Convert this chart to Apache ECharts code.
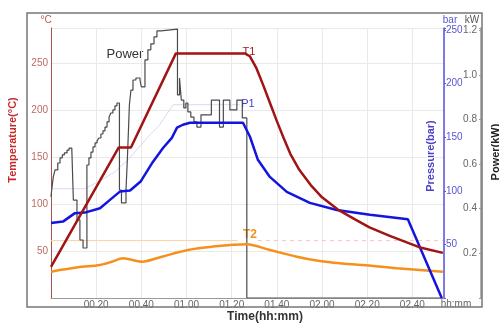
<!DOCTYPE html>
<html>
<head>
<meta charset="utf-8">
<script src="https://cdn.jsdelivr.net/npm/echarts/dist/echarts.min.js"></script>
<style>
html, body { margin: 0; background: #fff; }
#chart { width: 499px; height: 323px; }
</style>
</head>
<body>
<div id="chart"></div>
<script>
// time in minutes from start
var t1Time = [0, 30, 35.4, 55.3, 85.8, 88, 91, 94, 97, 100, 103, 106, 110, 115, 120, 127, 135, 141, 150, 163, 173.5];
var t1Temp = [33, 160, 160, 260, 260, 257, 244, 226, 207, 188, 170, 153, 136, 120, 107, 94, 83, 75, 66, 54, 48];

var t2Time = [0, 11.9, 21.7, 27, 31.9, 40.3, 49.1, 60.6, 71.2, 86.7, 96.9, 108.8, 119, 127.9, 138, 153.1, 173.5];
var t2Temp = [28, 32.6, 35.1, 38.6, 42.2, 38.6, 43.9, 51, 54.5, 57.1, 51, 43.9, 39.3, 36.9, 35.1, 31.6, 28];

var p1Time = [0, 5.3, 10.6, 15, 21.7, 26.1, 30.5, 35, 39.8, 45.1, 49.6, 53.5, 55.8, 58.4, 61.5, 85, 88.1, 91.6, 96.9, 104.4, 114.6, 126.5, 141.2, 158, 173];
var p1Bar = [70, 71.3, 79.2, 79.7, 83.8, 91.6, 99.3, 100.3, 109, 127, 140, 149.5, 159, 161.7, 163.6, 163.6, 150.5, 129, 113, 99, 88.8, 82.2, 77.6, 73.4, 0];

var pSetTime = [0, 15, 21.7, 28.3, 34.1, 43.8, 48.2, 54, 83.6];
var pSetBar = [102, 102, 109.3, 117.8, 129, 152.3, 161.7, 180.4, 180.4];

var t2SetTime = [0, 82.7];
var t2SetTail = [91.6, 173.5];
var t2SetTemp = 61;

// power steps: value holds from each time until the next one
var powTime = [0, 0.3, 1.0, 1.8, 3.0, 4.0, 5.0, 5.9, 7.1, 8.0, 9.2,
  9.9, 11.5, 12.8, 14.2,
  15.9, 16.8, 17.7, 18.6, 19.5, 20.4, 21.2, 22.1, 23.0, 23.9, 24.8, 25.7, 26.5, 27.4, 28.3, 29.2,
  30.3, 31.2, 33.2,
  33.8, 34.3, 34.7, 35.4, 36.3, 37.6, 39.4, 40.0, 41.6, 42.9, 44.2, 45.6, 46.9, 48.7,
  56.0, 56.9, 57.7, 58.8, 59.7, 60.6, 61.9, 63.3, 64.6, 66.4, 71.0, 74.6, 76.3, 79.2, 82.3, 84.7,
  86.7, 173.5];
var powKW = [0.453, 0.484, 0.542, 0.574, 0.605, 0.628, 0.641, 0.650, 0.663, 0.672, 0.678,
  0.439, 0.350, 0.260, 0.224,
  0.596, 0.628, 0.654, 0.677, 0.695, 0.704, 0.717, 0.735, 0.749, 0.766, 0.789, 0.811, 0.829, 0.843, 0.861, 0.874,
  0.484, 0.426, 0.484,
  0.619, 0.753, 0.865, 0.932, 0.977, 0.986, 0.977, 0.946, 1.067, 1.112, 1.139, 1.170, 1.197, 1.205,
  0.910, 0.986, 0.887, 0.852, 0.874, 0.834, 0.811, 0.789, 0.766, 0.821, 0.887, 0.766, 0.887, 0.843, 0.887, 0.807,
  0, 0];

function zip(a, b) {
  return a.map(function (v, i) { return [v, b[i]]; });
}
function pad(n) { return (n < 10 ? '0' : '') + n; }

var font = 'Liberation Sans, Arial, sans-serif';
var gridColor = '#e9e9e9';

var myChart = echarts.init(document.getElementById('chart'));
myChart.setOption({
  animation: false,
  textStyle: { fontFamily: font },
  grid: { left: 51, right: 55, top: 28, bottom: 25 },
  xAxis: {
    type: 'value',
    min: 0,
    max: 174,
    interval: 20,
    axisLine: { lineStyle: { color: '#999' } },
    axisTick: { show: false },
    axisLabel: {
      fontSize: 10,
      color: '#666',
      margin: 2,
      formatter: function (v) {
        if (v === 0 || v % 20 !== 0) return '';
        return pad(Math.floor(v / 60)) + '.' + pad(v % 60);
      }
    },
    splitLine: { lineStyle: { color: gridColor } }
  },
  yAxis: [
    {
      type: 'value',
      position: 'left',
      min: 0,
      max: 287,
      interval: 50,
      axisLine: { show: true, lineStyle: { color: '#a85050' } },
      axisTick: { show: false },
      axisLabel: {
        fontSize: 10,
        color: '#b86a66',
        margin: 3,
        formatter: function (v) { return (v > 0 && v % 50 === 0) ? v : ''; }
      },
      splitLine: { lineStyle: { color: gridColor } }
    },
    {
      type: 'value',
      position: 'right',
      min: 0,
      max: 252,
      interval: 50,
      axisLine: { show: true, lineStyle: { color: '#5b50d8', width: 1.5 } },
      axisTick: { show: true, length: 2, lineStyle: { color: '#5b50d8' } },
      axisLabel: {
        fontSize: 10,
        color: '#5a55d0',
        margin: 2,
        formatter: function (v) { return (v > 0 && v % 50 === 0) ? v : ''; }
      },
      splitLine: { show: false }
    },
    {
      type: 'value',
      position: 'right',
      offset: 37,
      min: 0,
      max: 1.21,
      interval: 0.2,
      axisLine: { show: true, lineStyle: { color: '#999', width: 1.5 } },
      axisTick: { show: true, inside: true, length: 2, lineStyle: { color: '#999' } },
      axisLabel: {
        inside: true,
        fontSize: 10,
        color: '#666',
        margin: 4,
        formatter: function (v) {
          if (v <= 0 || Math.abs(v * 5 - Math.round(v * 5)) > 1e-6) return '';
          return v.toFixed(1);
        }
      },
      splitLine: { show: false }
    }
  ],
  series: [
    {
      name: 'T2 set',
      type: 'line',
      yAxisIndex: 0,
      data: t2SetTime.map(function (t) { return [t, t2SetTemp]; }),
      lineStyle: { color: '#fbd0a2', width: 1 }
    },
    {
      name: 'T2 set tail',
      type: 'line',
      yAxisIndex: 0,
      data: t2SetTail.map(function (t) { return [t, t2SetTemp]; }),
      lineStyle: { color: '#efc6c6', width: 1, type: [4, 4] }
    },
    {
      name: 'P set',
      type: 'line',
      yAxisIndex: 1,
      data: zip(pSetTime, pSetBar),
      lineStyle: { color: '#ddd6ef', width: 1 }
    },
    {
      name: 'Power',
      type: 'line',
      yAxisIndex: 2,
      step: 'end',
      data: zip(powTime, powKW),
      lineStyle: { color: '#4a4a4a', width: 1.2 }
    },
    {
      name: 'T2',
      type: 'line',
      yAxisIndex: 0,
      smooth: 0.3,
      data: zip(t2Time, t2Temp),
      lineStyle: { color: '#f5901c', width: 2.5 }
    },
    {
      name: 'P1',
      type: 'line',
      yAxisIndex: 1,
      data: zip(p1Time, p1Bar),
      lineStyle: { color: '#1414e0', width: 2.5 }
    },
    {
      name: 'T1',
      type: 'line',
      yAxisIndex: 0,
      data: zip(t1Time, t1Temp),
      lineStyle: { color: '#a01414', width: 2.5 }
    }
  ].map(function (s) {
    return Object.assign({ symbol: 'none', silent: true }, s);
  }),
  graphic: [
    { type: 'rect', silent: true, z: 10, shape: { x: 27, y: 13, width: 455, height: 294 },
      style: { fill: 'none', stroke: '#777', lineWidth: 1.5 } },
    { type: 'text', x: 46, y: 20, style: { text: '°C', font: '10px ' + font, fill: '#b05a55', textAlign: 'center', textVerticalAlign: 'middle' } },
    { type: 'text', x: 450, y: 20, style: { text: 'bar', font: '10px ' + font, fill: '#5a55d0', textAlign: 'center', textVerticalAlign: 'middle' } },
    { type: 'text', x: 472, y: 20, style: { text: 'kW', font: '10px ' + font, fill: '#555', textAlign: 'center', textVerticalAlign: 'middle' } },
    { type: 'text', x: 13, y: 140, rotation: Math.PI / 2, style: { text: 'Temperature(°C)', font: 'bold 11px ' + font, fill: '#c72a2a', textAlign: 'center', textVerticalAlign: 'middle' } },
    { type: 'text', x: 431, y: 156, rotation: Math.PI / 2, style: { text: 'Pressure(bar)', font: 'bold 11px ' + font, fill: '#4b40c8', textAlign: 'center', textVerticalAlign: 'middle' } },
    { type: 'text', x: 496, y: 152, rotation: Math.PI / 2, style: { text: 'Power(kW)', font: 'bold 11px ' + font, fill: '#222', textAlign: 'center', textVerticalAlign: 'middle' } },
    { type: 'text', x: 265, y: 317, style: { text: 'Time(hh:mm)', font: 'bold 12px ' + font, fill: '#333', textAlign: 'center', textVerticalAlign: 'middle' } },
    { type: 'text', x: 456, y: 304, style: { text: 'hh:mm', font: '10px ' + font, fill: '#666', textAlign: 'center', textVerticalAlign: 'middle' } },
    { type: 'text', x: 125, y: 54, style: { text: 'Power', font: '13px ' + font, fill: '#333', textAlign: 'center', textVerticalAlign: 'middle' } },
    { type: 'text', x: 249, y: 52, style: { text: 'T1', font: '11px ' + font, fill: '#a02020', textAlign: 'center', textVerticalAlign: 'middle' } },
    { type: 'text', x: 248, y: 104, style: { text: 'P1', font: '11px ' + font, fill: '#3c3cd8', textAlign: 'center', textVerticalAlign: 'middle' } },
    { type: 'text', x: 250, y: 235, style: { text: 'T2', font: 'bold 12px ' + font, fill: '#f0901e', textAlign: 'center', textVerticalAlign: 'middle' } }
  ]
});
</script>
</body>
</html>
